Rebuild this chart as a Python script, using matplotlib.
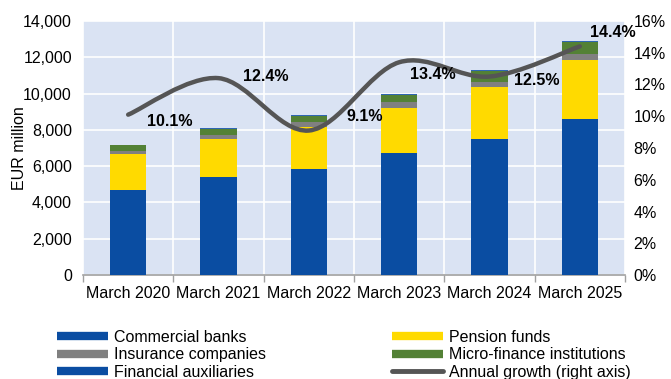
import matplotlib
matplotlib.use("Agg")
import matplotlib.pyplot as plt
from matplotlib.path import Path
from matplotlib.patches import PathPatch
from matplotlib.lines import Line2D
from matplotlib.ticker import FuncFormatter, MultipleLocator
import numpy as np

plt.rcParams['font.family'] = ['Liberation Sans', 'DejaVu Sans']

# Assets by institution type, EUR million
periods = ["March 2020", "March 2021", "March 2022", "March 2023", "March 2024", "March 2025"]
commercial_banks = [4690, 5400, 5830, 6740, 7480, 8600]
pension_funds = [1960, 2100, 2310, 2480, 2870, 3250]
insurance_companies = [160, 220, 310, 290, 310, 330]
micro_finance = [340, 330, 320, 410, 590, 660]
financial_auxiliaries = [30, 30, 40, 70, 40, 40]
annual_growth = [10.1, 12.4, 9.1, 13.4, 12.5, 14.4]

# Label offsets for the growth values (points)
label_offsets = [(30, -5), (34, 1), (40, 10), (24, -9), (34, -3), (24, 10)]

c_banks = "#0A4DA2"
c_pension = "#FFDA00"
c_ins = "#808080"
c_mfi = "#538135"
c_aux = "#2F66B3"
c_line = "#555555"
bg = "#DAE3F3"

fig = plt.figure(figsize=(6.71, 3.79), dpi=100)
ax = fig.add_axes([0.1237, 0.2744, 0.8077, 0.6702])
ax.set_facecolor(bg)

x = np.arange(len(periods))
w = 0.4
bottom = np.zeros(len(periods))
series = [(commercial_banks, c_banks), (pension_funds, c_pension),
          (insurance_companies, c_ins), (micro_finance, c_mfi),
          (financial_auxiliaries, c_aux)]
for vals, col in series:
    ax.bar(x, vals, w, bottom=bottom, color=col, zorder=3, linewidth=0)
    bottom += np.array(vals)

ax.set_xlim(-0.5, len(periods) - 0.5)
ax.set_ylim(0, 14000)
ax.yaxis.set_major_locator(MultipleLocator(2000))
ax.yaxis.set_major_formatter(FuncFormatter(lambda v, p: f"{int(v):,}"))
ax.set_xticks(x)
ax.set_xticklabels(periods)
ax.set_xticks(np.arange(-0.5, len(periods)), minor=True)
ax.tick_params(axis='x', which='major', length=0, pad=8, labelsize=11.5, colors='black')
ax.tick_params(axis='x', which='minor', length=5, color='#A0A0A0', width=1)
ax.tick_params(axis='y', length=0, labelsize=11.5, pad=8)
ax.grid(axis='y', color='white', linewidth=1.2, zorder=1)
ax.grid(axis='x', which='minor', color='white', linewidth=1.2, zorder=1)
for s in ['top', 'right', 'left']:
    ax.spines[s].set_visible(False)
ax.spines['bottom'].set_color('#A0A0A0')
ax.spines['bottom'].set_linewidth(1.2)
ax.set_ylabel("EUR million", fontsize=11.5, labelpad=-3)

ax2 = ax.twinx()
ax2.set_ylim(0, 16)
ax2.yaxis.set_major_locator(MultipleLocator(2))
ax2.yaxis.set_major_formatter(FuncFormatter(lambda v, p: f"{int(v)}%"))
ax2.tick_params(axis='y', length=0, labelsize=11.5, pad=6)
for s in ['top', 'right', 'left', 'bottom']:
    ax2.spines[s].set_visible(False)

# Smoothed growth line: cubic Bezier segments through each data point
pts = np.column_stack([x, annual_growth]).astype(float)
ext = np.vstack([pts[0], pts, pts[-1]])
verts = [tuple(pts[0])]
codes = [Path.MOVETO]
for i in range(len(pts) - 1):
    p0, p1, p2, p3 = ext[i], ext[i + 1], ext[i + 2], ext[i + 3]
    c1 = p1 + (p2 - p0) / 6.0
    c2 = p2 - (p3 - p1) / 6.0
    verts += [tuple(c1), tuple(c2), tuple(p2)]
    codes += [Path.CURVE4] * 3
ax2.add_patch(PathPatch(Path(verts, codes), facecolor='none', edgecolor=c_line,
                        linewidth=3.2, capstyle='round', joinstyle='round', zorder=5))

for xi, g, off in zip(x, annual_growth, label_offsets):
    ax2.annotate(f"{g:.1f}%", (xi, g), xytext=off, textcoords='offset points',
                 ha='center', va='center', fontsize=11.5, fontweight='bold', zorder=6)

handles = [
    Line2D([], [], color=c_banks, lw=6, solid_capstyle='butt'),
    Line2D([], [], color=c_ins, lw=6, solid_capstyle='butt'),
    Line2D([], [], color=c_banks, lw=6, solid_capstyle='butt'),
    Line2D([], [], color=c_pension, lw=6, solid_capstyle='butt'),
    Line2D([], [], color=c_mfi, lw=6, solid_capstyle='butt'),
    Line2D([], [], color=c_line, lw=3.5, solid_capstyle='round'),
]
labels = ["Commercial banks", "Insurance companies", "Financial auxiliaries",
          "Pension funds", "Micro-finance institutions", "Annual growth (right axis)"]
fig.legend(handles, labels, ncol=2, loc='upper left', bbox_to_anchor=(0.085, 0.13),
           frameon=False, fontsize=11.5, handlelength=3.2, handletextpad=0.37,
           columnspacing=7.9, labelspacing=0.15, borderaxespad=0, borderpad=0)

fig.savefig("out.png", dpi=100)
